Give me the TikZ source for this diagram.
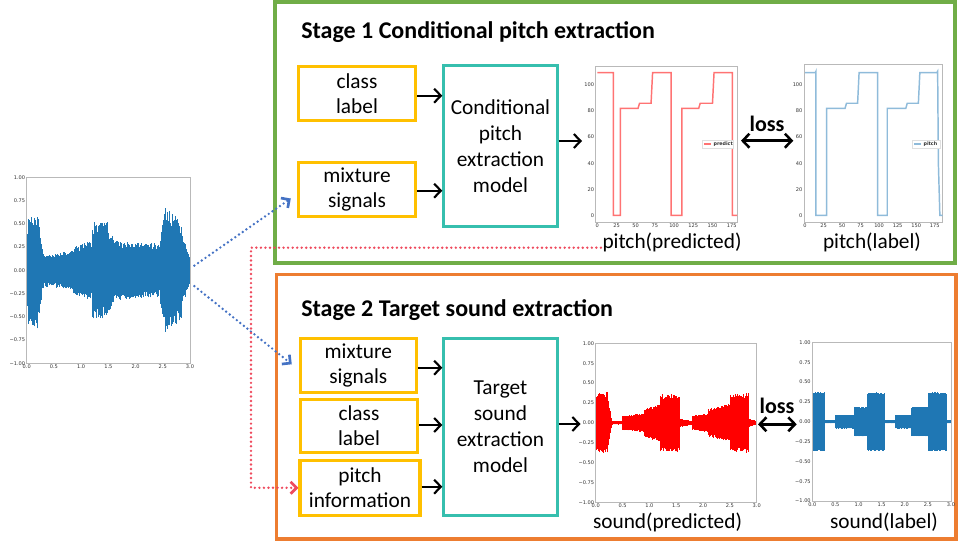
\documentclass[tikz,border=0pt]{standalone}
\usepackage{fontspec}
\setmainfont{Carlito}
\newfontfamily\tickfont{DejaVu Sans}
\usetikzlibrary{positioning}
\usetikzlibrary{arrows.meta}
\usetikzlibrary{calc}

\definecolor{stagegreen}{HTML}{70AD47}
\definecolor{stageorange}{HTML}{ED7D31}
\definecolor{inyellow}{HTML}{FFC000}
\definecolor{modelteal}{HTML}{36BFAE}
\definecolor{mixblue}{HTML}{4472C4}
\definecolor{pitchred}{HTML}{EE4B5E}
\definecolor{mplblue}{HTML}{1F77B4}

\tikzset{
  inbox/.style={draw=inyellow, line width=2.3pt, minimum width=88pt, minimum height=41pt,
    align=center, inner sep=1pt, font=\fontsize{16}{18.75}\selectfont},
  modelbox/.style={draw=modelteal, line width=2.3pt, minimum width=85pt,
    align=center, inner sep=1pt, font=\fontsize{16}{19.5}\selectfont},
  flow/.style={-{Straight Barb[length=5pt,width=10.5pt]}, line width=1.6pt},
  lossflow/.style={{Straight Barb[length=5pt,width=10.5pt]}-{Straight Barb[length=5pt,width=10.5pt]}, line width=1.9pt},
  dotflow/.style={-{Straight Barb[length=4.5pt,width=9pt]}, line width=2pt, line cap=round,
    dash pattern=on 0pt off 3.4pt},
  stagetitle/.style={anchor=base west, inner sep=0pt, font=\bfseries\fontsize{18}{21}\selectfont},
  lossfont/.style={font=\bfseries\fontsize{16.5}{19}\selectfont},
  labfont/.style={inner sep=1pt, font=\fontsize{16}{19}\selectfont},
  axisline/.style={draw=gray!55, line width=0.6pt},
  ticklab/.style={inner sep=1pt, text=gray!40!black, font=\tickfont\fontsize{3.8}{4}\selectfont}
}

\begin{document}
\begin{tikzpicture}[x=0.75pt,y=-0.75pt]
  \useasboundingbox (0,0) rectangle (958,545);
  \pgfmathsetseed{7}

  % tick labels of a waveform plot
  \def\ampticks{%
    \foreach \v/\lab in {1/1.00,0.75/0.75,0.5/0.50,0.25/0.25,0/0.00,-0.25/−0.25,-0.5/−0.50,-0.75/−0.75,-1/−1.00}
      {\node[ticklab,left] at (0,\v) {\lab};}
    \foreach \t/\lab in {0/0.0,0.5/0.5,1/1.0,1.5/1.5,2/2.0,2.5/2.5,3/3.0}
      {\node[ticklab,below] at (\t,-1) {\lab};}}
  % waveform: segments t0/t1/a0/a1, jitter
  \def\wave#1#2{%
    \foreach \ta/\tb/\ua/\ub in {#1}{%
      \pgfmathsetmacro{\tn}{\ta+0.01}%
      \foreach \t in {\ta,\tn,...,\tb}{%
        \pgfmathsetmacro{\up}{(\ua+(\ub-\ua)*(\t-\ta)/(\tb-\ta))*(1+#2*rand)}%
        \pgfmathsetmacro{\dn}{(\ua+(\ub-\ua)*(\t-\ta)/(\tb-\ta))*(1+#2*rand)}%
        \draw (\t,-\dn) -- (\t,\up);
      }%
    }}

  % stage frames
  \draw[stagegreen, line width=2.5pt] (275,2) rectangle (955,263);
  \draw[stageorange, line width=2.5pt] (276.5,274.5) rectangle (956,539);

  % mixture waveform
  \begin{scope}[shift={(26.7,270.3)},xscale=54.43,yscale=-93]
    \begin{scope}[mplblue, line width=0.7pt]
      \wave{0/0.03/0.15/0.5, 0.03/0.2/0.5/0.55, 0.2/0.3/0.55/0.17, 0.3/0.85/0.15/0.18,
        0.85/1.2/0.22/0.28, 1.2/1.5/0.45/0.45, 1.5/1.6/0.4/0.3, 1.6/2.45/0.28/0.25,
        2.45/2.55/0.3/0.6, 2.55/2.85/0.6/0.45, 2.85/3/0.35/0.12}{0.15}
    \end{scope}
    \draw[axisline] (0,-1) rectangle (3,1);
    \ampticks
    \coordinate (mixout1) at (3.08,0.05);
    \coordinate (mixout2) at (3.08,-0.17);
  \end{scope}

  % Stage 1
  \node[stagetitle] (title1) at (301,39) {Stage 1 Conditional pitch extraction};
  \node[inbox] (cls1) at (357,93.5) {class\\label};
  \node[inbox] (mix1) at (357,189.5) {mixture\\signals};
  \node[modelbox, minimum height=120.5pt] (model1) at (500.5,146) {Conditional\\pitch\\extraction\\model};
  \draw[flow] (cls1.east |- 0,95.7) -- (model1.west |- 0,95.7);
  \draw[flow] (mix1.east |- 0,190.7) -- (model1.west |- 0,190.7);
  \coordinate (ppin) at (582,141);
  \draw[flow] (model1.east |- ppin) -- (ppin);

  % pitch (predicted)
  \begin{scope}[shift={(597.3,215.3)},xscale=0.768,yscale=-1.303]
    \draw[axisline] (-2,-5.5) rectangle (183,114.5);
    \draw[red!55, line width=1.1pt] (0,109.5) -- (21,109.5) -- (21,0) -- (30,0) -- (30,82) -- (53,82)
      -- (55,86) -- (70,86) -- (72,109.5) -- (96,109.5) -- (96,0) -- (110,0) -- (110,82) -- (132,82)
      -- (134,86) -- (150,86) -- (152,109.5) -- (176,109.5) -- (176,0) -- (182,0);
    \foreach \v in {0,20,...,100} {\node[ticklab,left] at (-2,\v) {\v};}
    \foreach \t in {0,25,...,175} {\node[ticklab,below] at (\t,-5.5) {\t};}
  \end{scope}
  \draw[gray!25, fill=white, line width=0.4pt] (702,140) rectangle (733,148);
  \draw[red!55, line width=0.9pt] (704,144) -- (711,144);
  \node[ticklab, anchor=west, font=\tickfont\bfseries\fontsize{3.6}{4}\selectfont] at (712,144) {predict};

  % pitch (label)
  \begin{scope}[shift={(805,215.3)},xscale=0.741,yscale=-1.303]
    \draw[axisline] (-1.3,-5.5) rectangle (185.6,115.5);
    \draw[mplblue!50, line width=1.1pt] (0,109.5) -- (14,109.5) -- (14.8,110.5) -- (14.8,0) -- (29.3,0)
      -- (29.3,82) -- (54,82) -- (56,86) -- (71,86) -- (73,109.5) -- (98,109.5) -- (98,0) -- (111,0)
      -- (111,82) -- (136,82) -- (138,86) -- (153,86) -- (155,109.5) -- (178,109.5) -- (179,110.5)
      -- (180,40) -- (182,0) -- (185.6,0);
    \foreach \v in {0,20,...,100} {\node[ticklab,left] at (-1.3,\v) {\v};}
    \foreach \t in {0,25,...,175} {\node[ticklab,below] at (\t,-5.5) {\t};}
  \end{scope}
  \draw[gray!25, fill=white, line width=0.4pt] (912,140) rectangle (940,148);
  \draw[mplblue!50, line width=0.9pt] (914,144) -- (921,144);
  \node[ticklab, anchor=west, font=\tickfont\bfseries\fontsize{3.6}{4}\selectfont] at (922,144) {pitch};

  \coordinate (lossa1) at (741,140.7);
  \coordinate (lossb1) at (793.3,140.7);
  \draw[lossflow] (lossa1) -- (lossb1);
  \node[lossfont] (loss1) at (767,124) {loss};
  \node[labfont] (ppred) at (672,242) {pitch(predicted)};
  \node[labfont] (plab) at (872,242) {pitch(label)};

  % Stage 2
  \node[stagetitle] (title2) at (301,317) {Stage 2 Target sound extraction};
  \node[inbox, minimum height=40.5pt, minimum width=87pt] (mix2) at (358.3,365.3) {mixture\\signals};
  \node[inbox, minimum height=40pt, minimum width=88pt] (cls2) at (359,426) {class\\label};
  \node[inbox, minimum height=41.5pt, minimum width=90pt] (info2) at (360,487.8) {pitch\\information};
  \node[modelbox, minimum height=133pt] (model2) at (500.5,427) {Target\\sound\\extraction\\model};
  \draw[flow] (mix2.east |- 0,367.7) -- (model2.west |- 0,367.7);
  \draw[flow] (cls2.east |- 0,425) -- (model2.west |- 0,425);
  \draw[flow] (info2.east |- 0,486.7) -- (model2.west |- 0,486.7);
  \coordinate (spin) at (580.5,424);
  \draw[flow] (model2.east |- spin) -- (spin);

  % sound (predicted)
  \begin{scope}[shift={(595.7,422.8)},xscale=53.67,yscale=-79.5]
    \begin{scope}[red, line width=0.5pt]
      \wave{0/0.22/0.33/0.36, 0.22/0.3/0.3/0.03, 0.3/0.5/0.02/0.02, 0.5/0.9/0.08/0.11,
        0.9/1.2/0.16/0.22, 1.2/1.55/0.33/0.34, 1.55/1.8/0.05/0.02, 1.8/2.1/0.08/0.11,
        2.1/2.5/0.16/0.22, 2.5/2.85/0.32/0.35, 2.85/3/0.05/0.02}{0.1}
    \end{scope}
    \draw[axisline] (0,-1) rectangle (3,1);
    \ampticks
  \end{scope}

  % sound (label)
  \begin{scope}[shift={(812.3,421.7)},xscale=46.23,yscale=-79.35]
    \begin{scope}[mplblue, line width=0.5pt]
      \wave{0/0.27/0.36/0.36, 0.27/0.5/0.02/0.02, 0.5/0.9/0.085/0.085, 0.9/1.2/0.18/0.18,
        1.2/1.55/0.36/0.36, 1.55/1.8/0.02/0.02, 1.8/2.15/0.085/0.085, 2.15/2.5/0.18/0.18,
        2.5/2.9/0.36/0.36, 2.9/3/0.02/0.02}{0.03}
    \end{scope}
    \draw[axisline] (0,-1) rectangle (3,1);
    \ampticks
  \end{scope}

  \coordinate (lossa2) at (758,424.3);
  \coordinate (lossb2) at (796.7,424.3);
  \draw[lossflow] (lossa2) -- (lossb2);
  \node[lossfont] (loss2) at (777,406) {loss};
  \node[labfont] (spred) at (667.5,522) {sound(predicted)};
  \node[labfont] (slab) at (884,522) {sound(label)};

  % mixture to both stages
  \draw[dotflow, mixblue] (mixout1) -- ($(mix1.west)+(-6,9)$);
  \draw[dotflow, mixblue] (mixout2) -- ($(mix2.west)+(-7,-1)$);

  % predicted pitch to stage 2
  \coordinate (pbend) at (251,247.7);
  \draw[dotflow, pitchred] (ppred.west |- pbend) -- (pbend) |- (info2.west);
\end{tikzpicture}
\end{document}
